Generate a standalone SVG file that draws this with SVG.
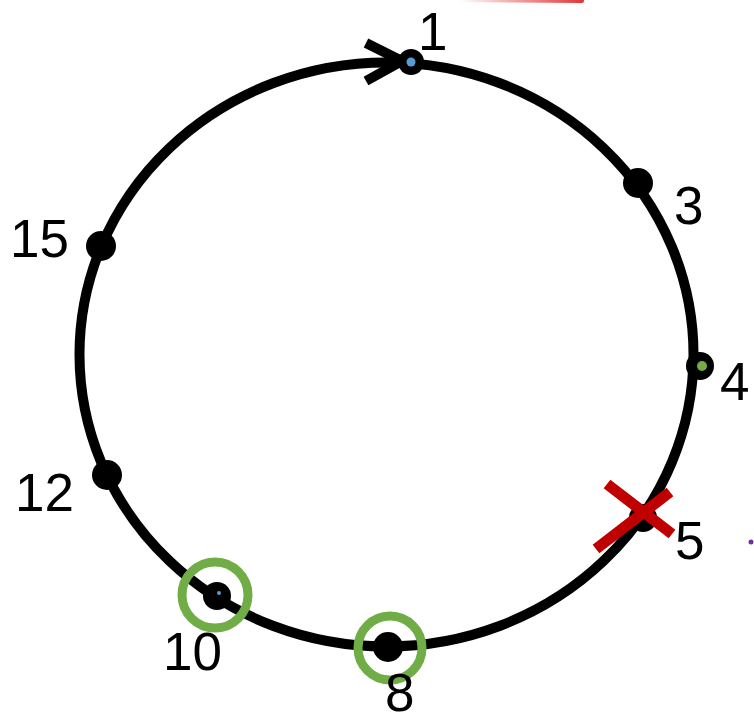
<svg xmlns="http://www.w3.org/2000/svg" width="754" height="724" viewBox="0 0 754 724">
<style>
.lbl{font-family:"Liberation Sans","Open Sans",sans-serif;font-size:53px;fill:#000}
.dot{fill:#000}
.ring{fill:none;stroke:#70ad47;stroke-width:9}
</style>
<defs>
<linearGradient id="rg" x1="0" y1="0" x2="1" y2="0">
<stop offset="0" stop-color="#e02020" stop-opacity="0"/>
<stop offset="1" stop-color="#e02020" stop-opacity="0.9"/>
</linearGradient>
</defs>
<rect width="754" height="724" fill="#fff"/>
<line x1="460" y1="0" x2="582" y2="1" stroke="url(#rg)" stroke-width="4" stroke-linecap="round"/>
<g id="connectors">
<ellipse cx="386.5" cy="354.5" rx="307" ry="292" fill="none" stroke="#000" stroke-width="10"/>
<polyline points="366,43 402,61 366,81" fill="none" stroke="#000" stroke-width="10"/>
</g>
<g id="n1"><circle class="dot" cx="411" cy="62" r="13"/><circle cx="411" cy="62" r="4.5" fill="#5b9bd5"/><text class="lbl" x="418" y="50">1</text></g>
<g id="n3"><circle class="dot" cx="638" cy="183" r="15"/><text class="lbl" x="674" y="224">3</text></g>
<g id="n4"><circle class="dot" cx="700" cy="366" r="14"/><circle cx="702" cy="366" r="5" fill="#70ad47"/><text class="lbl" x="720" y="400">4</text></g>
<g id="n5"><circle class="dot" cx="643" cy="518" r="14"/><line x1="607" y1="484" x2="672" y2="534" stroke="#c00000" stroke-width="11"/><line x1="596" y1="549" x2="670" y2="492" stroke="#c00000" stroke-width="11"/><text class="lbl" x="675" y="559">5</text><circle cx="751" cy="542" r="2.5" fill="#7030a0"/></g>
<g id="n8"><circle class="dot" cx="388" cy="647" r="15"/><circle class="ring" cx="390" cy="648" r="32"/><text class="lbl" x="385" y="711">8</text></g>
<g id="n10"><circle class="dot" cx="217" cy="596" r="14"/><circle cx="219" cy="593" r="2" fill="#5b9bd5"/><circle class="ring" cx="215" cy="595" r="33"/><text class="lbl" x="163" y="670">10</text></g>
<g id="n12"><circle class="dot" cx="107" cy="475" r="15"/><text class="lbl" x="15" y="511">12</text></g>
<g id="n15"><circle class="dot" cx="101" cy="246" r="15"/><text class="lbl" x="10" y="257">15</text></g>
</svg>
